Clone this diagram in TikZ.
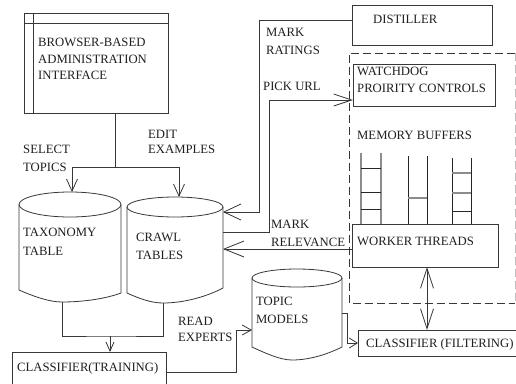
\documentclass[tikz,border=0pt]{standalone}
\usepackage{fontspec}
\setmainfont{Liberation Serif}
\newfontfamily\tnr{Liberation Serif}
\usetikzlibrary{arrows.meta}
\newcommand\fsz{\tnr\fontsize{12.7}{17.5}\selectfont}
\begin{document}
\begin{tikzpicture}[x=1pt,y=-1pt,
  ln/.style={draw=black!78, line width=0.8pt},
  box/.style={ln, rectangle, inner sep=0pt, outer sep=0pt, anchor=north west},
  lbl/.style={anchor=north west, inner sep=0pt, align=left, font=\fsz, text=black!88},
  blbl/.style={anchor=base west, inner sep=0pt, font=\fsz, text=black!88},
  tip/.style 2 args={-{Straight Barb[length=#1pt,width=#2pt,line width=0.8pt]}},
  dtip/.style 2 args={{Straight Barb[length=#1pt,width=#2pt,line width=0.8pt]}-{Straight Barb[length=#1pt,width=#2pt,line width=0.8pt]}},
  side/.style={draw=black!45, line width=1.2pt},
  rung/.style={draw=black!85, line width=0.8pt}]
\useasboundingbox (0,0) rectangle (516,383);
\clip (0,0) rectangle (516,383);
\fill[white] (0,0) rectangle (516,383);

% ---------- browser box ----------
\node[box, minimum width=144pt, minimum height=100pt] (browser) at (24,13) {};
\draw[ln] (33,13) -- (33,113);
\draw[ln] (24,23) -- (168,23);
\node[lbl] (browsertxt) at (38,38) {BROWSER-BASED\\[-1pt]ADMINISTRATION\\[-1pt]INTERFACE};

% ---------- cylinders ----------
% taxonomy
\draw[ln] (70,204.5) ellipse [x radius=51, y radius=12.5];
\draw[ln] (19,204.5) -- (19,290) .. controls (35,297) and (50,302) .. (62,302)
  .. controls (82,302) and (105,299) .. (121,293) -- (121,204.5);
\coordinate (taxtop) at (72,192);
\coordinate (taxbot) at (62,302);
\node[lbl] (taxtxt) at (23,228) {TAXONOMY\\[1pt]TABLE};
% crawl
\draw[ln] (175,207) ellipse [x radius=48, y radius=10];
\draw[ln] (127,207) -- (127,293) .. controls (140,299) and (152,303) .. (163,303)
  .. controls (185,303) and (208,296) .. (223,288) -- (223,207);
\coordinate (crtop) at (179,197);
\coordinate (crbot) at (163,303);
\coordinate (cr1) at (223,212);
\coordinate (cr2) at (223,232);
\coordinate (cr3) at (223,249);
\node[lbl] (crtxt) at (136,233) {CRAWL\\TABLES};
% topic models
\draw[ln] (297,278) ellipse [x radius=45, y radius=9];
\draw[ln] (252,278) -- (252,347) .. controls (265,353) and (280,360) .. (292,360)
  .. controls (310,360) and (328,354) .. (342,347) -- (342,278);
\coordinate (tp1) at (252,330);
\coordinate (tp2) at (342,313);
\node[lbl] (tptxt) at (256,297) {TOPIC\\MODELS};

% ---------- right side boxes ----------
\node[box, minimum width=140pt, minimum height=40pt] (distiller) at (352,5) {};
\node[lbl] (distxt) at (373,15) {DISTILLER};
\draw[ln, dash pattern=on 8pt off 4pt] (515,53) -- (349,53) -- (349,303) -- (515,303);
\draw[draw=black!25, line width=0.8pt, dash pattern=on 8pt off 4pt] (515,53) -- (515,303);
\node[box, minimum width=142pt, minimum height=42pt] (watchdog) at (353,64) {};
\node[lbl] (wdtxt) at (357,67) {WATCHDOG\\[-0.5pt]PROIRITY CONTROLS};
\node[lbl] (memtxt) at (357,131) {MEMORY BUFFERS};
\node[box, minimum width=146pt, minimum height=43pt] (worker) at (352,224) {};
\node[lbl] (wktxt) at (357,237) {WORKER THREADS};
\node[box, minimum width=162pt, minimum height=26pt] (filter) at (358,330) {};
\node[blbl] (filtxt) at (366,347) {CLASSIFIER (FILTERING)};
\node[box, minimum width=154pt, minimum height=40pt] (training) at (12,352) {};
\node[blbl] (trtxt) at (17,371) {CLASSIFIER(TRAINING)};

% ---------- memory buffers ----------
\draw[side] (361,153) -- (361,224); \draw[side] (381,153) -- (381,224);
\draw[rung] (361,168) -- (381,168); \draw[rung] (361,192) -- (381,192); \draw[rung] (361,209) -- (381,209);
\draw[rung] (408,156) -- (408,224); \draw[rung] (427,156) -- (427,224);
\draw[side] (408,198) -- (427,198);
\draw[rung] (452,158) -- (452,224); \draw[rung] (471,158) -- (471,224);
\draw[side] (452,173) -- (471,173); \draw[side] (452,193) -- (471,193); \draw[rung] (452,211) -- (471,211);

% ---------- labels ----------
\node[lbl] (seltxt) at (23,145) {SELECT\\[0.5pt]TOPICS};
\node[lbl] (edtxt) at (148,130) {EDIT\\[-2.5pt]EXAMPLES};
\node[lbl] (mrtxt) at (266,28) {MARK\\[0.5pt]RATINGS};
\node[lbl] (pktxt) at (263,82) {PICK URL};
\node[lbl] (mrltxt) at (271,220) {MARK\\RELEVANCE};
\node[lbl] (retxt) at (178,317) {READ\\[-1.5pt]EXPERTS};

% ---------- connectors ----------
\coordinate (brs) at (115,113);
\coordinate (brj) at (115,167);
\draw[ln] (brs) -- (brj);
\draw[ln, tip={12}{11}] (brj) -| (taxtop);
\draw[ln, tip={12}{11}] (brj) -| (crtop);

\coordinate (d1) at (352,20);
\draw[ln, tip={17}{16}] (d1) -- ++(-93,0) |- (cr1);
\coordinate (wd1) at (353,100);
\draw[ln, tip={18}{12}] (cr2) -- ++(46,0) |- (wd1);
\coordinate (wk1) at (352,249);
\draw[ln, tip={20}{16}] (wk1) -- (cr3);

\coordinate (trj) at (110,336);
\coordinate (trtop) at (110,352);
\draw[ln] (taxbot) |- (trj) -| (crbot);
\draw[ln, tip={9}{8}] (trj) -- (trtop);

\coordinate (tr1) at (166,372);
\draw[ln, tip={9}{10}] (tr1) -- ++(70,0) |- (tp1);
\coordinate (cf1) at (358,343);
\draw[ln, tip={8}{10}] (tp2) -- ++(5,0) |- (cf1);

\coordinate (wkb) at (427,267);
\coordinate (cft) at (427,330);
\draw[ln, dtip={20}{13}] (wkb) -- (cft);
\end{tikzpicture}
\end{document}
